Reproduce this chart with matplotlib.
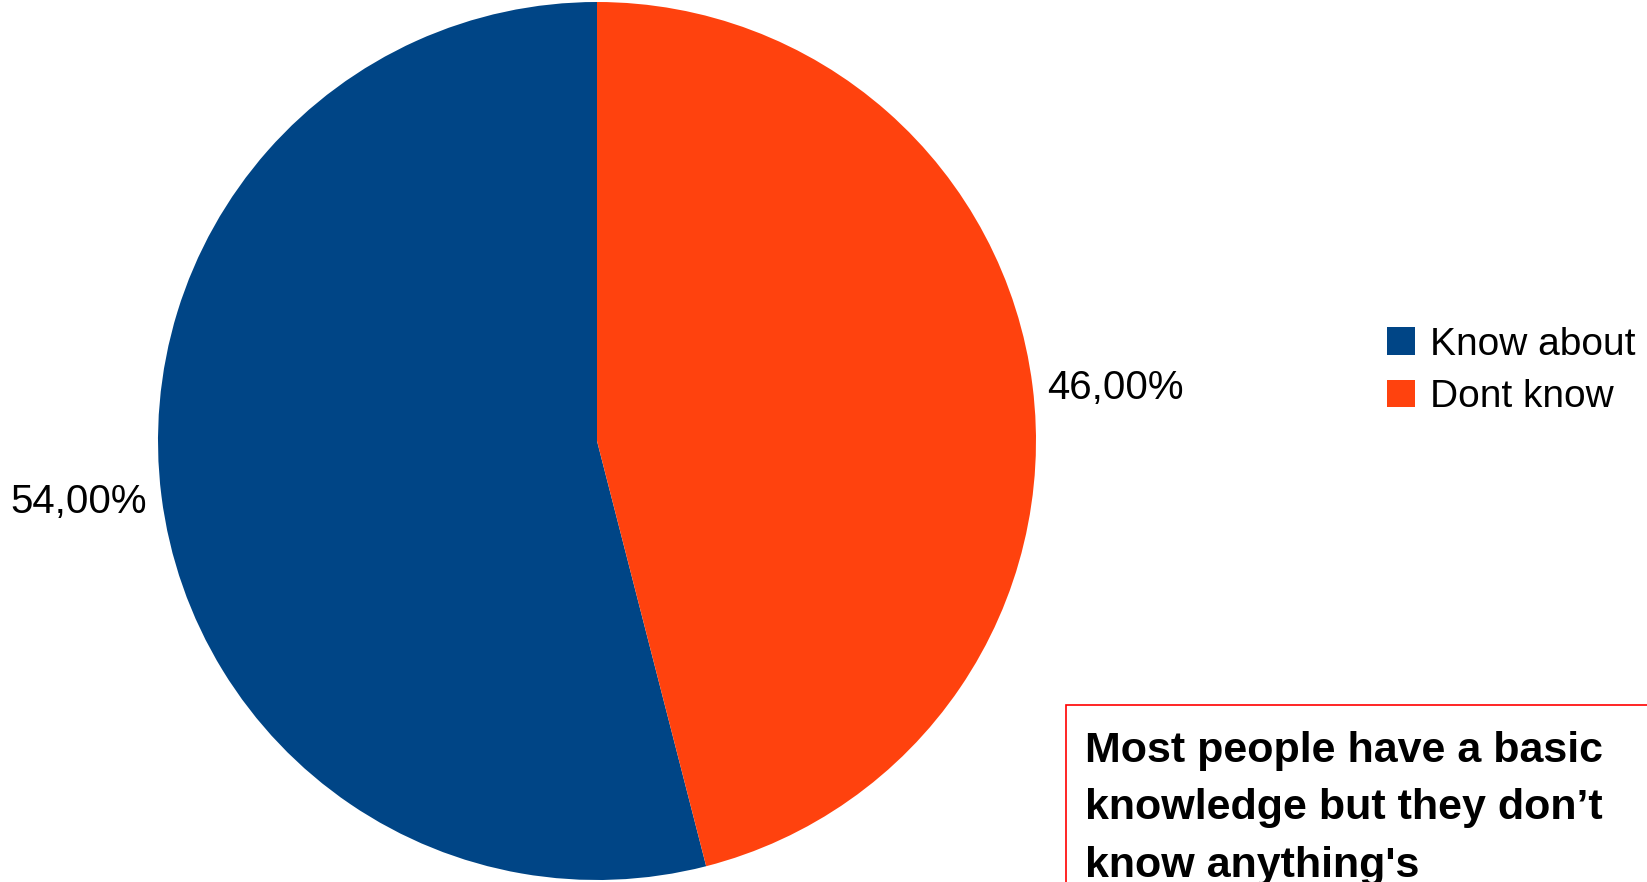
import matplotlib.pyplot as plt
from matplotlib.patches import Rectangle

labels = ['Know about', 'Dont know']
values = [54, 46]
colors = ['#004586', '#ff420e']
note = "Most people have a basic\nknowledge but they don\u2019t\nknow anything's"

W, H = 1647, 882
fig = plt.figure(figsize=(W / 100, H / 100), dpi=100)

# pie axes, in pixels: centre (597, 441), radius 439
cx, cy, r = 597, 441, 439
ax = fig.add_axes([(cx - r) / W, (H - cy - r) / H, 2 * r / W, 2 * r / H])
wedges, _, autotexts = ax.pie(values, colors=colors, startangle=90, counterclock=True,
                              autopct=lambda p: f'{p:.2f}%'.replace('.', ','),
                              pctdistance=1.19, radius=1,
                              textprops=dict(fontsize=29, family='Liberation Sans'))
# pull the percentage labels a little closer to the horizontal
for t, dy in zip(autotexts, [0.01, -0.029]):
    x, y = t.get_position()
    t.set_position((x, y + dy))
ax.set_xlim(-1, 1)
ax.set_ylim(-1, 1)
ax.set_aspect('equal')
ax.axis('off')

fig.legend(wedges, labels, loc='center left', bbox_to_anchor=(1368 / W, 1 - 371 / H),
           frameon=False, handlelength=0.7, handleheight=0.7, handletextpad=0.4,
           labelspacing=0.43, borderpad=0, prop=dict(family='Liberation Sans', size=28))

# note box in the lower right corner
fig.patches.append(Rectangle((1066 / W, -0.1), 0.5, 0.1 + 1 - 705 / H, transform=fig.transFigure,
                             facecolor='white', edgecolor='red', linewidth=1.2))
fig.text(1085 / W, 1 - 731 / H, note, ha='left', va='top', fontsize=31, fontweight='bold',
         family='Liberation Sans', linespacing=1.56)

fig.savefig('out.png', dpi=100)
